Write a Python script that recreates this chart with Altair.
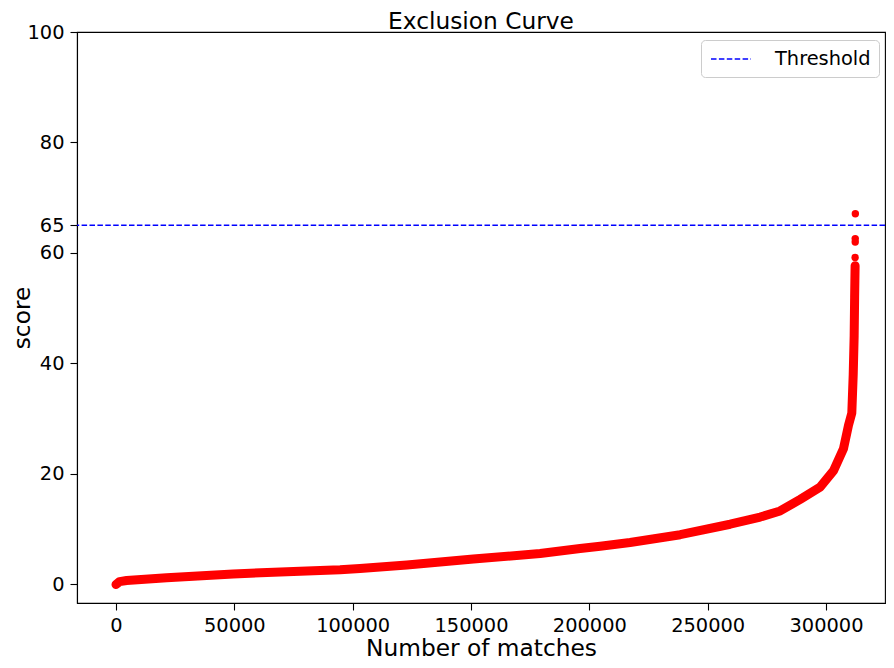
import altair as alt
import pandas as pd

# ---- data ----
matches = [0, 1500, 4500, 21400, 49500, 77800, 94700, 103100, 122900, 151000,
           179200, 196100, 204600, 217200, 238400, 259500, 272200, 280600,
           289100, 297500, 303200, 307400, 309500, 310900, 311500, 311900,
           312100, 312200, 312300]
scores = [0.0, 0.5, 0.7, 1.2, 1.9, 2.4, 2.65, 2.9, 3.5, 4.6,
          5.6, 6.5, 6.9, 7.6, 9.0, 10.9, 12.2, 13.3,
          15.4, 17.6, 20.6, 24.6, 28.8, 31.0, 38.0, 45.0,
          52.0, 55.0, 57.7]
outlier_matches = [312300, 312350, 312350, 312400]
outlier_scores = [59.2, 62.0, 62.6, 67.1]
threshold_value = [65]
threshold_label = ["Threshold"]
x_ticks = [0, 50000, 100000, 150000, 200000, 250000, 300000]
y_ticks = [0, 20, 40, 60, 65, 80, 100]

curve = pd.DataFrame({"matches": matches, "score": scores})
outliers = pd.DataFrame({"matches": outlier_matches, "score": outlier_scores})
thr = pd.DataFrame({"score": threshold_value, "label": threshold_label})

FONT = "DejaVu Sans"
xs = alt.Scale(domain=[-16479, 324930], nice=False, zero=False)
ys = alt.Scale(domain=[-3.36, 100], nice=False, zero=False)

x_axis = alt.Axis(values=x_ticks, format="d", title="Number of matches", grid=False,
                  titlePadding=3)
y_axis = alt.Axis(values=y_ticks, format="d", title="score", grid=False,
                  titlePadding=-8)

line = alt.Chart(curve).mark_line(
    color="#ff0000", strokeWidth=9, strokeCap="round", strokeJoin="round"
).encode(
    x=alt.X("matches:Q", scale=xs, axis=x_axis),
    y=alt.Y("score:Q", scale=ys, axis=y_axis),
)

dots = alt.Chart(outliers).mark_circle(color="#ff0000", size=55, opacity=1).encode(
    x=alt.X("matches:Q", scale=xs),
    y=alt.Y("score:Q", scale=ys),
)

rule = alt.Chart(thr).mark_rule(strokeDash=[5.5, 2.4], strokeWidth=1.5).encode(
    y=alt.Y("score:Q", scale=ys),
    stroke=alt.Stroke(
        "label:N",
        scale=alt.Scale(domain=threshold_label, range=["#0000ff"]),
        legend=alt.Legend(
            title=None, orient="none", legendX=624, legendY=8,
            symbolType="M-2,0H2", symbolSize=400, symbolStrokeWidth=1.5,
            symbolDash=[5.5, 2.4], symbolOffset=11, labelOffset=33,
            labelFontSize=19.4, labelFont=FONT, labelColor="black",
            padding=8, fillColor="rgba(255,255,255,0.8)", strokeColor="#cccccc",
            cornerRadius=4,
        ),
    ),
)

chart = alt.layer(line, dots, rule).properties(
    width=808, height=571,
    background="white",
    title=alt.TitleParams("Exclusion Curve", fontSize=23.3, font=FONT,
                          fontWeight="normal", color="black", anchor="middle",
                          frame="group", offset=-12),
    autosize=alt.AutoSizeParams(type="none"),
    padding={"left": 69, "top": 24, "right": 1, "bottom": 57},
).configure_view(
    stroke="black", strokeWidth=1.1
).configure_axis(
    labelFont=FONT, labelFontSize=19.4, labelColor="black",
    titleFont=FONT, titleFontSize=23.3, titleFontWeight="normal", titleColor="black",
    tickSize=7, tickWidth=1.1, tickColor="black", labelPadding=6,
    domainColor="black", domainWidth=1.1,
)

chart.save("out.html", embed_options={"renderer": "svg", "actions": False})
